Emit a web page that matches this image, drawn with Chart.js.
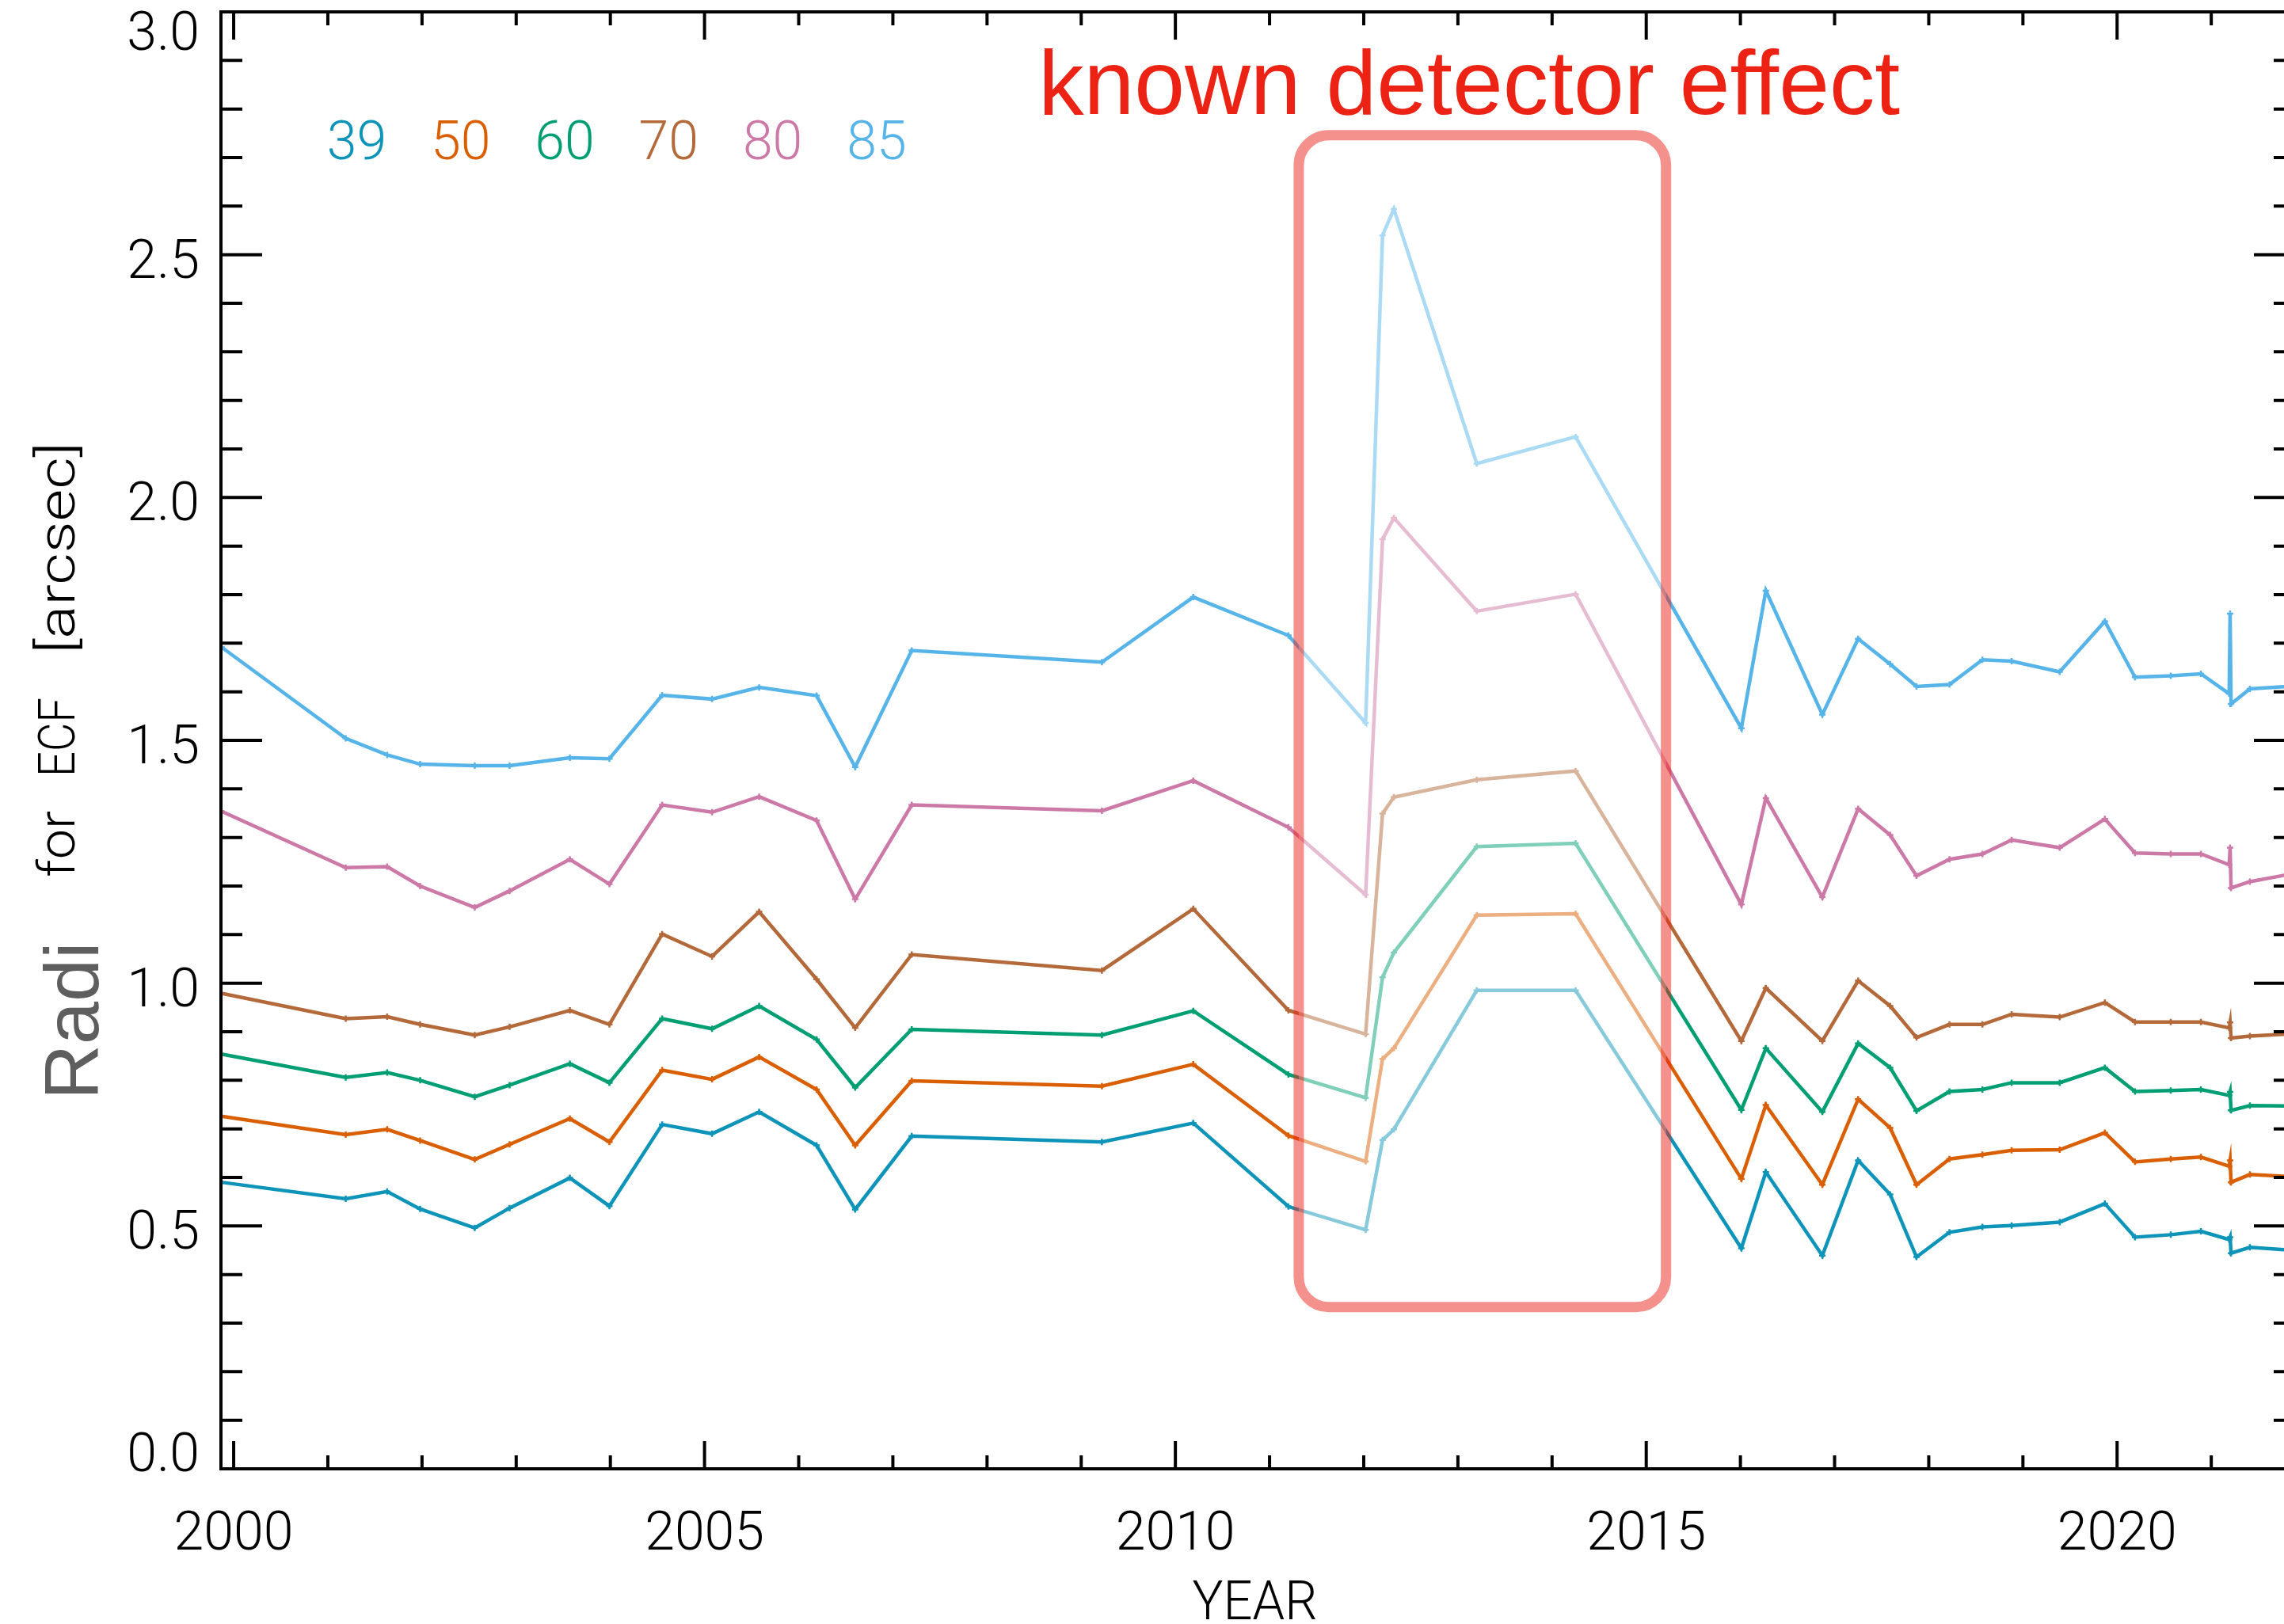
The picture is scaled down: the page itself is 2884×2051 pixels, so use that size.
<!DOCTYPE html>
<html>
<head>
<meta charset="utf-8">
<title>ECF radii vs year</title>
<script src="https://cdn.jsdelivr.net/npm/chart.js@4.4.1/dist/chart.umd.min.js"></script>
<style>
  html, body { margin: 0; padding: 0; background: #fff; overflow: hidden; }
  canvas { display: block; }
</style>
</head>
<body>
<canvas id="ecf" width="2920" height="2051" style="width:2920px;height:2051px"></canvas>
<script>
// observation epochs (decimal year), shared by every curve
const years = [1999.87, 2001.19, 2001.63, 2001.98, 2002.56, 2002.93, 2003.57, 2003.99, 2004.55, 2005.08,
               2005.58, 2006.19, 2006.60, 2007.20, 2009.22, 2010.19, 2011.20, 2012.02, 2012.20, 2012.32,
               2013.20, 2014.25, 2016.01, 2016.27, 2016.87, 2017.25, 2017.59, 2017.87, 2018.22, 2018.57,
               2018.88, 2019.39, 2019.87, 2020.19, 2020.57, 2020.89, 2021.19, 2021.20, 2021.21, 2021.41,
               2021.80];

// radius [arcsec] enclosing 39/50/60/70/80/85 % of the energy
const ecf39 = [0.590, 0.556, 0.571, 0.535, 0.496, 0.537, 0.599, 0.541, 0.709, 0.690,
               0.735, 0.666, 0.534, 0.685, 0.673, 0.712, 0.540, 0.492, 0.677, 0.699,
               0.985, 0.985, 0.454, 0.611, 0.439, 0.635, 0.565, 0.436, 0.487, 0.498,
               0.501, 0.508, 0.546, 0.477, 0.482, 0.489, 0.472, 0.477, 0.444, 0.456,
               0.451];
const ecf50 = [0.726, 0.688, 0.699, 0.676, 0.637, 0.668, 0.721, 0.673, 0.821, 0.802,
               0.848, 0.781, 0.666, 0.799, 0.788, 0.833, 0.686, 0.633, 0.844, 0.866,
               1.140, 1.143, 0.597, 0.749, 0.585, 0.761, 0.702, 0.585, 0.638, 0.647,
               0.656, 0.657, 0.692, 0.632, 0.638, 0.642, 0.623, 0.635, 0.590, 0.606,
               0.602];
const ecf60 = [0.854, 0.806, 0.816, 0.800, 0.766, 0.790, 0.834, 0.795, 0.927, 0.906,
               0.953, 0.884, 0.785, 0.905, 0.893, 0.943, 0.812, 0.764, 1.012, 1.063,
               1.281, 1.288, 0.739, 0.866, 0.735, 0.876, 0.826, 0.737, 0.777, 0.781,
               0.795, 0.795, 0.826, 0.777, 0.779, 0.781, 0.769, 0.776, 0.738, 0.748,
               0.747];
const ecf70 = [0.979, 0.927, 0.931, 0.915, 0.893, 0.910, 0.944, 0.915, 1.101, 1.055,
               1.147, 1.008, 0.908, 1.059, 1.026, 1.153, 0.944, 0.895, 1.349, 1.383,
               1.419, 1.437, 0.881, 0.990, 0.881, 1.005, 0.953, 0.888, 0.915, 0.915,
               0.936, 0.930, 0.960, 0.920, 0.920, 0.920, 0.908, 0.919, 0.887, 0.891,
               0.895];
const ecf80 = [1.354, 1.238, 1.240, 1.200, 1.156, 1.190, 1.255, 1.204, 1.367, 1.352,
               1.384, 1.335, 1.173, 1.367, 1.355, 1.417, 1.321, 1.182, 1.914, 1.958,
               1.766, 1.801, 1.162, 1.381, 1.177, 1.359, 1.305, 1.221, 1.255, 1.266,
               1.295, 1.279, 1.338, 1.268, 1.266, 1.266, 1.244, 1.279, 1.196, 1.209,
               1.223];
const ecf85 = [1.692, 1.504, 1.470, 1.451, 1.448, 1.448, 1.464, 1.462, 1.593, 1.585,
               1.609, 1.592, 1.445, 1.685, 1.661, 1.795, 1.716, 1.536, 2.540, 2.594,
               2.070, 2.125, 1.525, 1.808, 1.553, 1.709, 1.657, 1.611, 1.615, 1.666,
               1.663, 1.641, 1.745, 1.630, 1.633, 1.637, 1.596, 1.761, 1.575, 1.606,
               1.611];

const ecfLevels = ['39', '50', '60', '70', '80', '85'];
const ecfColors = ['#0e94b8', '#d95f02', '#009e73', '#b3693a', '#cc79a7', '#56b4e9'];

const yearTicks = [2000, 2005, 2010, 2015, 2020];
const radiusTicks = [0.0, 0.5, 1.0, 1.5, 2.0, 2.5, 3.0];

// epochs affected by the detector problem (data units)
const detectorBox = { x0: 2011.31, x1: 2015.21, y0: 0.333, y1: 2.746 };
const detectorNote = 'known detector effect';

const TICK_FONT = '300 68px Roboto, "DejaVu Sans", sans-serif';

function fitText(ctx, str, x, y, width) {
  const w = ctx.measureText(str).width;
  ctx.save();
  ctx.translate(x, y);
  ctx.scale(width / w, 1);
  ctx.fillText(str, 0, 0);
  ctx.restore();
}

// IDL-style frame: inward ticks on all four sides, labels, legend and the note box
const idlFrame = {
  id: 'idlFrame',
  beforeDraw(chart) {
    const { ctx, width, height } = chart;
    ctx.save();
    ctx.fillStyle = '#fff';
    ctx.fillRect(0, 0, width, height);
    ctx.restore();
  },
  afterDatasetsDraw(chart) {
    const { ctx, chartArea: a, scales: { x, y } } = chart;
    ctx.save();

    // washed-out box around the detector episode
    const bx0 = x.getPixelForValue(detectorBox.x0);
    const bx1 = x.getPixelForValue(detectorBox.x1);
    const by0 = y.getPixelForValue(detectorBox.y1);
    const by1 = y.getPixelForValue(detectorBox.y0);
    ctx.beginPath();
    ctx.roundRect(bx0, by0, bx1 - bx0, by1 - by0, 38);
    ctx.fillStyle = 'rgba(255,255,255,0.5)';
    ctx.fill();
    ctx.lineWidth = 13;
    ctx.strokeStyle = 'rgba(235,35,25,0.5)';
    ctx.stroke();

    // frame
    ctx.strokeStyle = '#000';
    ctx.lineWidth = 4;
    ctx.strokeRect(a.left, a.top, a.right - a.left, a.bottom - a.top);

    ctx.beginPath();
    for (let yr = 2000; yr <= 2021; yr++) {
      const px = x.getPixelForValue(yr);
      const len = yr % 5 === 0 ? 35 : 17;
      ctx.moveTo(px, a.top); ctx.lineTo(px, a.top + len);
      ctx.moveTo(px, a.bottom); ctx.lineTo(px, a.bottom - len);
    }
    for (let i = 0; i <= 30; i++) {
      const py = y.getPixelForValue(i / 10);
      const len = i % 5 === 0 ? 52 : 27;
      ctx.moveTo(a.left, py); ctx.lineTo(a.left + len, py);
      ctx.moveTo(a.right, py); ctx.lineTo(a.right - len, py);
    }
    ctx.stroke();

    // tick labels
    ctx.fillStyle = '#000';
    ctx.font = TICK_FONT;
    ctx.textBaseline = 'alphabetic';
    ctx.textAlign = 'right';
    radiusTicks.forEach(v => {
      const py = y.getPixelForValue(v);
      const cy = Math.min(Math.max(py + 5, a.top + 24), a.bottom - 21);
      ctx.fillText(v.toFixed(1), a.left - 27, cy + 24);
    });
    ctx.textAlign = 'center';
    yearTicks.forEach(v => {
      ctx.fillText(String(v), x.getPixelForValue(v), a.bottom + 102);
    });
    fitText(ctx, 'YEAR', (a.left + a.right) / 2 - 4, a.bottom + 190, 158);

    // y title: "Radi" overlay plus the plot's own text
    ctx.save();
    ctx.translate(124, 1389);
    ctx.rotate(-Math.PI / 2);
    ctx.textAlign = 'left';
    ctx.fillStyle = '#5e5e5e';
    ctx.font = '97px "Liberation Sans", Arial, sans-serif';
    ctx.fillText('Radi', 0, 0);
    ctx.restore();

    ctx.font = '300 65px Roboto, "DejaVu Sans", sans-serif';
    [['for', 1066, 84], ['ECF', 931, 100], ['[arcsec]', 692, 267]].forEach(([w, cy, len]) => {
      ctx.save();
      ctx.translate(94, cy);
      ctx.rotate(-Math.PI / 2);
      fitText(ctx, w, 0, 0, len);
      ctx.restore();
    });

    // level legend, one colour per curve
    ctx.font = TICK_FONT;
    ctx.textAlign = 'left';
    const lx = x.getPixelForValue(2000.99);
    const step = x.getPixelForValue(2002.094) - lx;
    const ly = y.getPixelForValue(2.697);
    chart.data.datasets.forEach((ds, i) => {
      ctx.fillStyle = ds.borderColor;
      ctx.fillText(ds.label, lx + i * step, ly);
    });

    // annotation
    ctx.fillStyle = '#ec2314';
    ctx.font = '115px "Liberation Sans", Arial, sans-serif';
    fitText(ctx, detectorNote, x.getPixelForValue(2008.545), y.getPixelForValue(2.79), 1088);

    ctx.restore();
  }
};

const series = [ecf39, ecf50, ecf60, ecf70, ecf80, ecf85];
const datasets = series.map((vals, i) => ({
  label: ecfLevels[i],
  data: years.map((yr, j) => ({ x: yr, y: vals[j] })),
  borderColor: ecfColors[i],
  backgroundColor: ecfColors[i],
  borderWidth: 4.5,
  tension: 0,
  showLine: true,
  pointStyle: 'cross',
  pointRadius: 4,
  pointBorderWidth: 2.5,
  pointBorderColor: ecfColors[i]
}));

new Chart(document.getElementById('ecf'), {
  type: 'scatter',
  data: { datasets },
  options: {
    responsive: false,
    devicePixelRatio: 1,
    animation: false,
    layout: { padding: { left: 279, top: 15, right: 22, bottom: 196 } },
    plugins: { legend: { display: false }, tooltip: { enabled: false } },
    scales: {
      x: { type: 'linear', display: false, min: 1999.865, max: 2021.89 },
      y: { type: 'linear', display: false, min: 0, max: 3 }
    }
  },
  plugins: [idlFrame]
});
</script>
</body>
</html>
